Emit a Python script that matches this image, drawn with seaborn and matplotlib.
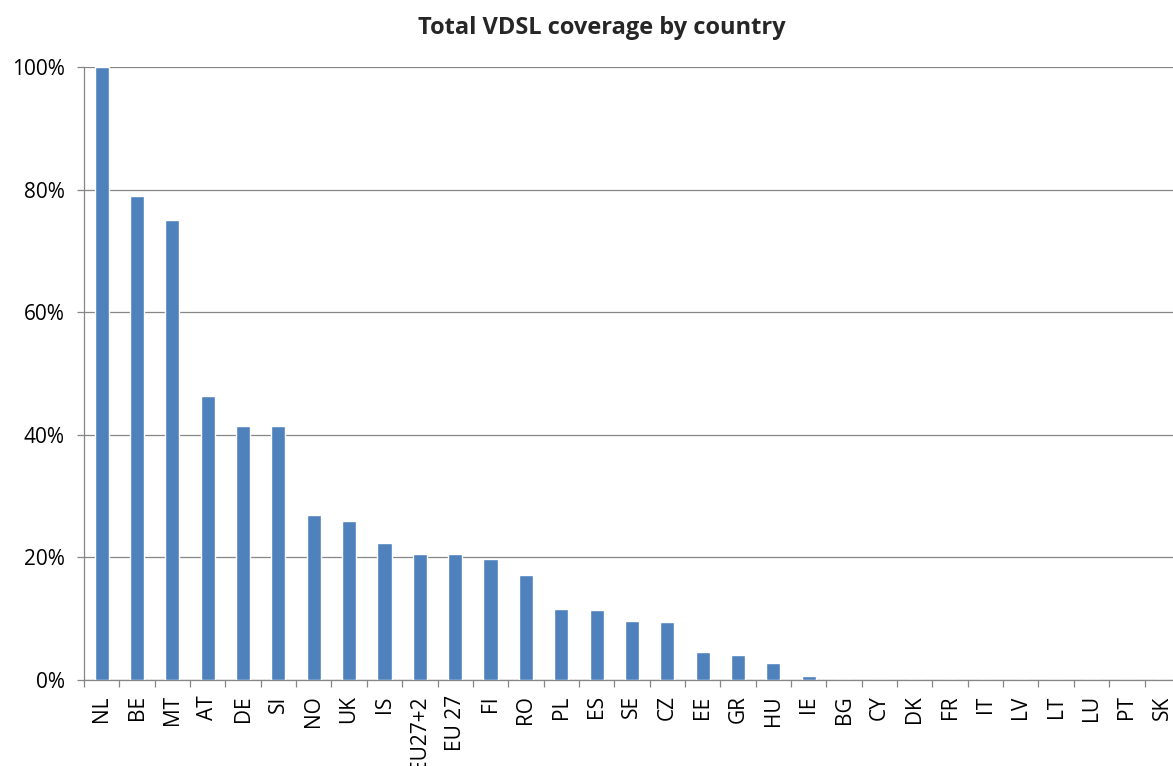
import matplotlib
matplotlib.use("Agg")
import matplotlib.pyplot as plt
import numpy as np
import pandas as pd
import seaborn as sns
from matplotlib.ticker import PercentFormatter, FixedLocator

# Datos (cobertura VDSL en %)
countries = ['NL', 'BE', 'MT', 'AT', 'DE', 'SI', 'NO', 'UK', 'IS', 'EU27+2',
             'EU 27', 'FI', 'RO', 'PL', 'ES', 'SE', 'CZ', 'EE', 'GR', 'HU',
             'IE', 'BG', 'CY', 'DK', 'FR', 'IT', 'LV', 'LT', 'LU', 'PT', 'SK']
coverage = [100.0, 78.9, 75.1, 46.4, 41.5, 41.5, 26.9, 26.0, 22.4, 20.5,
            20.5, 19.7, 17.2, 11.6, 11.5, 9.7, 9.5, 4.5, 4.1, 2.7,
            0.7, 0, 0, 0, 0, 0, 0, 0, 0, 0, 0]
y_ticks = [0, 20, 40, 60, 80, 100]

df = pd.DataFrame({'country': countries, 'coverage': coverage})

sns.set_theme(style="white")
plt.rcParams['font.family'] = ['Open Sans', 'DejaVu Sans']

fig = plt.figure(figsize=(11.73, 7.66), dpi=100)
ax = fig.add_axes([84 / 1173, 1 - 680 / 766, 31 * 35.35 / 1173, 613 / 766])

sns.barplot(data=df, x='country', y='coverage', ax=ax, color='#4F81BD',
            saturation=1, width=0.4, zorder=3)

grid_col = '#868686'
ax.set_ylim(0, 100)
ax.set_xlim(-0.5, len(countries) - 0.5)
ax.yaxis.set_major_locator(FixedLocator(y_ticks))
ax.yaxis.set_major_formatter(PercentFormatter(xmax=100, decimals=0))
ax.grid(axis='y', color=grid_col, linewidth=0.9, zorder=0)
ax.set_axisbelow(True)

for side in ['top', 'right']:
    ax.spines[side].set_visible(False)
for side in ['left', 'bottom']:
    ax.spines[side].set_color(grid_col)
    ax.spines[side].set_linewidth(0.9)

# Marcas del eje x entre categorias, etiquetas centradas
ax.xaxis.set_minor_locator(FixedLocator(np.arange(-0.5, len(countries), 1)))
ax.tick_params(axis='x', which='major', length=0, pad=11, labelsize=15,
               labelrotation=90, colors='black')
ax.tick_params(axis='x', which='minor', length=5, width=0.9, color=grid_col,
               bottom=True)
ax.tick_params(axis='y', which='major', length=5, width=0.9, color=grid_col,
               left=True, pad=9, labelsize=15, labelcolor='black')
for lab in ax.get_xticklabels():
    lab.set_verticalalignment('top')

ax.set_xlabel('')
ax.set_ylabel('')
fig.text(602 / 1173, 1 - 28 / 766, 'Total VDSL coverage by country',
         ha='center', va='center', fontsize=17, weight='bold')

plt.savefig('out.png', dpi=100)
